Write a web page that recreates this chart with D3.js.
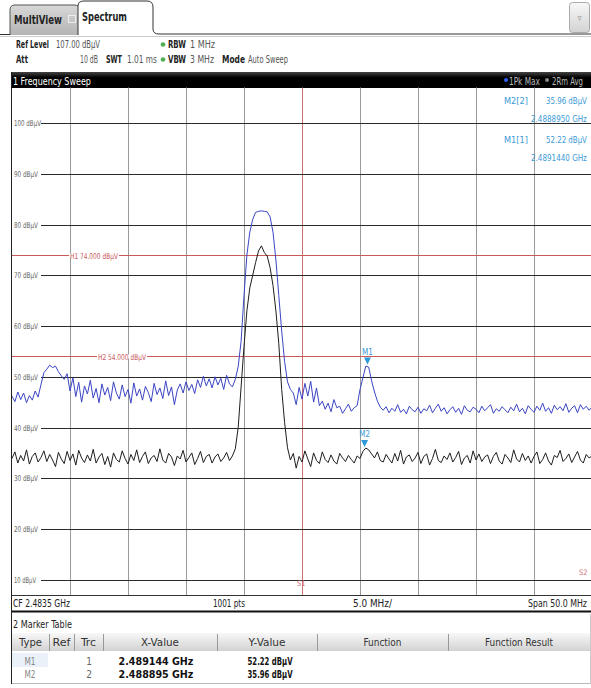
<!DOCTYPE html>
<html><head><meta charset="utf-8">
<script src="https://cdn.jsdelivr.net/npm/d3@7"></script>
<style>
body{margin:0;background:#fff;}
svg{display:block;font-family:"DejaVu Sans Condensed","Liberation Sans Narrow","Liberation Sans",Arial,sans-serif;}
</style></head><body>
<svg id="c" width="591" height="688"></svg>
<script>
// ---------- data ----------
const sweepStartGHz = 2.4585;
const sweepStopGHz = 2.5085;
// Trace 1: 1Pk Max (dBµV)
const pkMax = [
46.2,45.1,47.0,45.5,46.8,44.9,46.3,45.4,47.2,46.0,
48.5,50.8,51.5,52.3,51.8,52.1,51.0,50.2,49.5,50.6,
47.2,49.8,46.1,48.9,45.0,48.2,46.6,49.3,45.8,47.7,
44.9,48.6,46.4,47.9,45.3,49.0,46.8,45.6,48.4,46.1,
47.5,44.8,48.8,46.2,47.6,45.4,48.1,46.9,45.1,48.7,
46.5,47.8,45.7,49.2,46.3,48.0,44.5,47.4,48.6,46.8,
49.0,47.3,48.5,46.7,49.4,47.9,50.1,48.2,49.6,47.8,
50.0,48.4,49.7,47.5,50.3,48.6,48.0,49.5,52.0,57.0,
66.0,74.0,78.5,81.0,82.4,82.6,82.7,82.6,82.5,81.5,
78.5,73.0,66.0,59.0,53.0,49.0,47.5,46.8,44.5,47.9,
45.6,48.7,46.2,49.1,45.0,47.8,44.3,45.2,43.6,44.8,
43.1,45.5,43.9,44.2,42.8,43.7,44.6,43.2,43.9,44.3,
47.5,49.8,52.1,51.9,49.2,47.0,45.2,44.0,43.4,44.1,
42.9,43.8,43.2,44.5,43.0,43.6,42.7,44.2,43.5,43.1,
44.0,42.8,43.7,43.3,44.4,42.9,43.8,44.6,43.2,43.9,
42.7,43.5,44.1,43.0,43.8,42.6,44.3,43.4,43.1,44.0,
43.6,42.9,44.2,43.3,43.9,44.5,42.8,43.7,43.2,44.1,
43.5,42.9,44.0,43.3,44.6,43.1,43.8,42.7,44.3,43.6,
43.0,44.2,43.4,44.8,43.2,43.9,42.8,44.4,43.5,44.1,
43.3,44.7,43.0,43.8,44.3,42.9,44.5,43.6,44.2,43.4,
44.0];
// Trace 2: 2Rm Avg (dBµV)
const rmAvg = [
33.9,35.2,33.0,34.5,33.4,35.6,32.8,34.3,35.0,33.2,
34.1,35.4,33.3,34.7,33.6,32.3,35.1,33.8,32.9,35.3,
33.5,34.8,32.6,35.5,34.0,33.1,34.6,33.4,35.7,33.0,
34.2,34.9,32.7,34.3,32.2,35.0,33.7,33.2,35.4,33.9,
32.8,34.7,33.5,35.6,33.1,34.3,35.2,32.9,34.0,34.5,
33.3,35.8,33.6,33.0,34.9,34.2,32.5,34.4,33.8,35.5,
33.2,34.1,35.0,32.7,33.9,35.3,33.1,34.3,34.7,33.0,
34.2,34.8,33.3,34.0,35.1,33.5,34.4,35.8,40.0,48.0,
56.0,63.0,67.5,70.0,72.5,74.8,75.8,74.5,73.8,71.5,
68.0,63.0,56.5,47.5,41.0,36.0,33.6,34.9,32.0,34.3,
33.2,35.4,33.8,32.3,35.0,33.5,32.9,35.2,33.7,33.1,
34.6,33.4,32.8,34.9,34.0,33.3,34.5,33.7,33.0,34.4,
33.9,35.3,35.96,35.6,34.8,34.0,35.2,33.5,33.2,34.7,
33.8,33.0,34.9,33.4,35.5,32.8,34.2,34.6,33.3,34.0,
35.1,32.9,34.3,34.8,32.6,33.9,35.7,33.5,33.1,34.4,
33.7,35.0,33.2,34.1,35.3,32.7,34.0,34.5,33.0,35.4,
33.6,34.8,33.3,34.2,34.6,32.9,34.3,35.1,33.4,32.8,
34.7,34.0,33.1,35.6,33.8,33.2,34.9,33.5,34.4,33.0,
34.3,35.2,32.9,33.7,35.0,33.4,32.6,34.5,34.1,35.5,
33.3,33.9,34.8,33.1,34.2,35.3,33.6,33.0,34.7,34.0,
34.4];
const yTickValues = [10,20,30,40,50,60,70,80,90,100];
const yTickLabels = ["10 dBµV","20 dBµV","30 dBµV","40 dBµV","50 dBµV","60 dBµV","70 dBµV","80 dBµV","90 dBµV","100 dBµV"];
const limitNames = ["H1","H2"];
const limitValues = [74,54];
const markerNames = ["M1","M2"];
const markerTrc = [1,2];
const markerFreqGHz = [2.489144,2.488895];
const markerLevel = [52.22,35.96];
const markerFreqText = ["2.489144 GHz","2.488895 GHz"];
const markerLevelText = ["52.22 dBµV","35.96 dBµV"];
const deltaInfo = [["M2[2]","35.96 dBµV","2.4888950 GHz"],["M1[1]","52.22 dBµV","2.4891440 GHz"]];
const tableCols = ["Type","Ref","Trc","X-Value","Y-Value","Function","Function Result"];

// ---------- helpers ----------
const svg = d3.select("#c");
// text squeezed horizontally to a target width (condensed instrument font look)
function T(parent, str, xx, yy, o){
  o = o || {};
  const t = parent.append("text").attr("x",0).attr("y",0)
    .attr("font-size",o.size||10).attr("font-weight",o.bold?"bold":"normal")
    .attr("fill",o.fill||"#222").attr("text-anchor",o.anchor||"start").text(str);
  let s = 1;
  if(o.w){ const nat = t.node().getComputedTextLength(); if(nat>0) s = o.w/nat; }
  t.attr("transform",`translate(${xx},${yy}) scale(${s},1)`);
  return t;
}

// ---------- layout ----------
const L = 12, R = 592, TOP = 87.5, B = 595;
const x = d3.scaleLinear().domain([sweepStartGHz, sweepStopGHz]).range([L, R]);
const y = d3.scaleLinear().domain([7, 107]).range([B, TOP]);
const defs = svg.append("defs");
const g1 = defs.append("linearGradient").attr("id","tabg").attr("x1",0).attr("x2",0).attr("y1",0).attr("y2",1);
g1.append("stop").attr("offset",0).attr("stop-color","#d8d8d8");
g1.append("stop").attr("offset",1).attr("stop-color","#b4b4b4");
const g2 = defs.append("linearGradient").attr("id","hdrg").attr("x1",0).attr("x2",0).attr("y1",0).attr("y2",1);
g2.append("stop").attr("offset",0).attr("stop-color","#f8f8f8");
g2.append("stop").attr("offset",1).attr("stop-color","#d2d2d2");
const g3 = defs.append("linearGradient").attr("id","barg").attr("x1",0).attr("x2",0).attr("y1",0).attr("y2",1);
g3.append("stop").attr("offset",0).attr("stop-color","#444");
g3.append("stop").attr("offset",0.35).attr("stop-color","#000");
g3.append("stop").attr("offset",1).attr("stop-color","#000");

// tabs
svg.append("path").attr("d","M10,35 L10,10 Q10,5 15,5 L74,5 Q80,5 80,10 L80,35").attr("fill","url(#tabg)").attr("stroke","#555");
T(svg,"MultiView",14,24,{size:12,bold:true,fill:"#222",w:48});
svg.append("rect").attr("x",68.5).attr("y",15.5).attr("width",7).attr("height",7).attr("fill","none").attr("stroke","#eee");
svg.append("line").attr("x1",0).attr("x2",10).attr("y1",34.5).attr("y2",34.5).attr("stroke","#333");
svg.append("path").attr("d","M78,35 L78,6 Q78,1 84,1 L147,1 Q153,1 153,7 L153,29 Q153,34 159,34 L591,34").attr("fill","#fff").attr("stroke","#333");
T(svg,"Spectrum",82,21,{size:12,bold:true,fill:"#222",w:45});
svg.append("line").attr("x1",0).attr("x2",591).attr("y1",36.5).attr("y2",36.5).attr("stroke","#ccc");
svg.append("rect").attr("x",569.5).attr("y",2.5).attr("width",20).attr("height",30).attr("rx",3).attr("fill","url(#hdrg)").attr("stroke","#aaa");
T(svg,"▿",579.5,21,{size:9,fill:"#888",anchor:"middle"});

// setup info
T(svg,"Ref Level",16,48,{bold:true,w:33}); T(svg,"107.00 dBµV",56,48,{fill:"#555",w:44});
T(svg,"Att",16,63,{bold:true,w:12}); T(svg,"10 dB",80,63,{fill:"#555",w:18});
T(svg,"SWT",106,63,{bold:true,w:16}); T(svg,"1.01 ms",127,63,{fill:"#555",w:30});
svg.append("circle").attr("cx",163).attr("cy",44.5).attr("r",2.3).attr("fill","#4caf50");
svg.append("circle").attr("cx",163).attr("cy",59.5).attr("r",2.3).attr("fill","#4caf50");
T(svg,"RBW",168,48,{bold:true,w:18}); T(svg,"1 MHz",190,48,{fill:"#555",w:25});
T(svg,"VBW",168,63,{bold:true,w:18}); T(svg,"3 MHz",190,63,{fill:"#555",w:24});
T(svg,"Mode",222,63,{bold:true,w:23}); T(svg,"Auto Sweep",248,63,{fill:"#555",w:40});

// black title bar
svg.append("rect").attr("x",11).attr("y",72).attr("width",580).attr("height",16).attr("fill","url(#barg)");
T(svg,"1 Frequency Sweep",13,84.5,{size:10.5,fill:"#fff",w:78});
svg.append("circle").attr("cx",506).attr("cy",80).attr("r",2).attr("fill","#3060ff");
T(svg,"1Pk Max",509,84.5,{fill:"#bbb",w:31});
svg.append("circle").attr("cx",547).attr("cy",80).attr("r",2).attr("fill","#888");
T(svg,"2Rm Avg",552,84.5,{fill:"#bbb",w:31});

// plot grid
const plot = svg.append("g");
const vTicks = d3.range(1,10).map(k => sweepStartGHz + k*(sweepStopGHz-sweepStartGHz)/10);
plot.selectAll("line.v").data(vTicks).join("line")
  .attr("x1",d=>Math.round(x(d))+0.5).attr("x2",d=>Math.round(x(d))+0.5).attr("y1",TOP).attr("y2",B)
  .attr("stroke",(d,i)=> i===4 ? "#d07070" : "#9a9a9a").attr("stroke-width",1);
plot.selectAll("line.h").data(yTickValues).join("line")
  .attr("x1",41).attr("x2",R).attr("y1",d=>Math.round(y(d))+0.5).attr("y2",d=>Math.round(y(d))+0.5)
  .attr("stroke","#2a2a2a").attr("stroke-width",1);
yTickValues.forEach((v,i)=>{
  T(plot,yTickLabels[i],14,y(v)+3,{size:8,fill:"#666",w: v===100?27:(v===10?22:24)});
});
// limit lines
limitValues.forEach((v,i)=>{
  const yy = Math.round(y(v))+0.5;
  plot.append("line").attr("x1",L).attr("x2",R).attr("y1",yy).attr("y2",yy).attr("stroke","#c85a5a").attr("stroke-width",1);
  const tx = i===0 ? 70 : 98;
  plot.append("rect").attr("x",tx-1).attr("y",yy-2).attr("width",50).attr("height",4).attr("fill","#fff");
  T(plot,limitNames[i]+" "+v.toFixed(3)+" dBµV",tx,yy+3,{size:8,fill:"#c85a5a",w:48});
});
T(plot,"S1",297,586,{size:7.5,fill:"#d07070"});
T(plot,"S2",579,575,{size:7.5,fill:"#d07070"});

// traces
const freqOf = (n) => (i) => sweepStartGHz + i*(sweepStopGHz-sweepStartGHz)/(n-1);
const line1 = d3.line().x((d,i)=>x(freqOf(pkMax.length)(i))).y(d=>y(d));
const line2 = d3.line().x((d,i)=>x(freqOf(rmAvg.length)(i))).y(d=>y(d));
plot.append("path").attr("d",line2(rmAvg)).attr("fill","none").attr("stroke","#1e1e1e").attr("stroke-width",1);
plot.append("path").attr("d",line1(pkMax)).attr("fill","none").attr("stroke","#3b44c4").attr("stroke-width",1);

// markers
markerNames.forEach((m,i)=>{
  const mx = x(markerFreqGHz[i]), my = y(markerLevel[i]);
  plot.append("path").attr("d",`M${mx-3.5},${my-8} L${mx+3.5},${my-8} L${mx},${my-1} Z`).attr("fill","#2e9ad8");
  T(plot,m,mx,my-11,{size:8,fill:"#3a9ad8",anchor:"middle"});
});

// marker info at top right
deltaInfo.forEach((r,i)=>{
  const by = 104 + i*39;
  T(svg,r[0],504,by,{size:9.5,fill:"#3a9ad8",w:24});
  T(svg,r[1],546,by,{size:9.5,fill:"#3a9ad8",w:41});
  T(svg,r[2],531,by+18,{size:9.5,fill:"#3a9ad8",w:56});
});

// bottom axis info
svg.append("line").attr("x1",11).attr("x2",591).attr("y1",595.5).attr("y2",595.5).attr("stroke","#333");
T(svg,"CF 2.4835 GHz",13,607,{size:10.5,w:57});
T(svg,"1001 pts",213,607,{size:10.5,w:32});
T(svg,"5.0 MHz/",353,607,{size:10.5,w:39});
T(svg,"Span 50.0 MHz",528,607,{size:10.5,w:59});
svg.append("rect").attr("x",11).attr("y",610.5).attr("width",580).attr("height",2).attr("fill","#111");

// left border
svg.append("line").attr("x1",11.5).attr("x2",11.5).attr("y1",72).attr("y2",684).attr("stroke","#222");

// marker table
T(svg,"2 Marker Table",13,628,{size:10.5,w:59});
const colEdges = [12,49,74,103,217,317,448,590];
const colW = [23,18,15,38,37,38,68];
svg.append("rect").attr("x",12).attr("y",633).attr("width",578).attr("height",18).attr("fill","url(#hdrg)");
tableCols.forEach((c,i)=>{
  T(svg,c,(colEdges[i]+colEdges[i+1])/2,646,{size:10.5,fill:"#333",anchor:"middle",w:colW[i]});
  if(i>0) svg.append("line").attr("x1",colEdges[i]+0.5).attr("x2",colEdges[i]+0.5).attr("y1",634).attr("y2",651).attr("stroke","#999");
});
svg.append("rect").attr("x",12).attr("y",653).attr("width",36).attr("height",14).attr("fill","#eaf1f8");
markerNames.forEach((m,i)=>{
  const by = 665 + i*13;
  T(svg,m,30,by,{size:10,fill:"#888",anchor:"middle",w:11});
  T(svg,String(markerTrc[i]),89,by,{size:10,fill:"#666",anchor:"middle"});
  T(svg,markerFreqText[i],156,by,{size:11,bold:true,fill:"#111",anchor:"middle",w:75});
  T(svg,markerLevelText[i],270,by,{size:11,bold:true,fill:"#111",anchor:"middle",w:45});
});
svg.append("line").attr("x1",12).attr("x2",590).attr("y1",683.5).attr("y2",683.5).attr("stroke","#bbb");
svg.append("line").attr("x1",590.5).attr("x2",590.5).attr("y1",614).attr("y2",684).attr("stroke","#ccc");
</script>
</body></html>
